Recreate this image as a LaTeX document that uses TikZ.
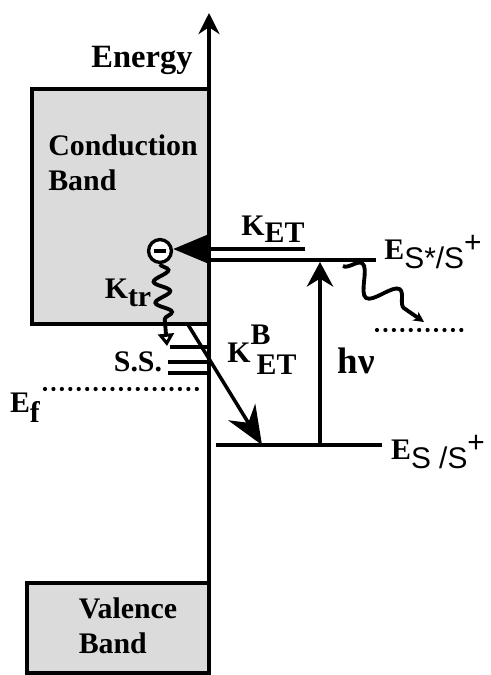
\documentclass[tikz,border=0pt]{standalone}
\usepackage{fontspec}
\setmainfont{Liberation Serif}
\setsansfont{Liberation Sans}
\usetikzlibrary{arrows.meta,decorations.pathmorphing}

\begin{document}
\begin{tikzpicture}[x=0.02cm, y=-0.02cm, font=\fontsize{17}{20}\selectfont\bfseries]
        \tikzstyle{band} = [draw, line width=2.6pt, fill=gray!28]
        \tikzstyle{lvl} = [line width=2.3pt]
        \tikzstyle{lbl} = [inner sep=0pt, align=left]
        \tikzstyle{dots} = [line width=2.4pt, line cap=round, dash pattern=on 0pt off 4.8pt]
        \tikzstyle{wavy} = [line width=2.2pt, decorate]
        \useasboundingbox (0,0) rectangle (490,675);
        % bands
        \draw[band] (32,89) rectangle (209,324);
        \draw[band] (27,583) rectangle (209,673);
        \node[lbl] (cb) at (123,163) {Conduction\\Band};
        \node[lbl] (vb) at (128,626) {Valence\\Band};
        % energy axis
        \coordinate (ax0) at (209,673);
        \coordinate (ax1) at (209,13);
        \draw[line width=2.3pt, -{Stealth[length=12pt, width=12pt]}] (ax0) -- (ax1);
        \node[lbl, font=\fontsize{18.5}{20}\selectfont\bfseries] (energy) at (142,60) {Energy};
        % levels
        \coordinate (es1) at (209,260);
        \coordinate (es2) at (376,260);
        \coordinate (eg1) at (216,445);
        \coordinate (eg2) at (382,445);
        \draw[lvl] (es1) -- (es2);
        \draw[lvl] (eg1) -- (eg2);
        \node[lbl] (lesx) at (433,252) {E\raisebox{-0.6ex}{\sffamily\mdseries S*/S}\raisebox{0.5ex}{\sffamily\mdseries +}};
        \node[lbl] (lesg) at (438,452) {E\raisebox{-0.7ex}{\sffamily\mdseries S /S}\raisebox{0.5ex}{\sffamily\mdseries +}};
        % surface states and fermi level
        \foreach \yy/\xx in {347/170, 362/168, 373/168} {
          \draw[lvl] (\xx,\yy) -- (209,\yy);
        }
        \node[lbl] (ss) at (138,362) {S.S.};
        \coordinate (ef1) at (45,389);
        \coordinate (ef2) at (205,389);
        \draw[dots] (ef1) -- (ef2);
        \node[lbl] (ef) at (25,408) {E\raisebox{-0.7ex}{f}};
        \coordinate (rl1) at (377,330);
        \coordinate (rl2) at (466,330);
        \draw[dots] (rl1) -- (rl2);
        % electron
        \node[circle, draw, line width=1.9pt, fill=white, minimum size=13pt, inner sep=0pt] (el) at (160,251) {};
        \draw[line width=2.2pt] ([xshift=-3.5pt]el.center) -- ([xshift=3.5pt]el.center);
        % transfer arrows
        \coordinate (ket) at (305,249);
        \draw[lvl, -{Triangle[length=20pt, width=16pt]}] (ket) -- (el.east |- ket);
        \node[lbl] (lket) at (273,229) {K\raisebox{-0.5ex}{ET}};
        \coordinate (ktr) at (167,346);
        \draw[wavy, decoration={snake, amplitude=4.5pt, segment length=12pt, post length=12pt},
          -{Triangle[open, length=7pt, width=9pt]}] (el.south) -- (ktr);
        \node[lbl] (lktr) at (128,293) {K\raisebox{-0.6ex}{tr}};
        \coordinate (kb0) at (187,323);
        \coordinate (kb1) at (262,445);
        \draw[line width=2pt, -{Stealth[length=22pt, width=18pt]}] (kb0) -- (kb1);
        \node[lbl] (lkb) at (262,350) {K\rlap{\raisebox{1.3ex}{B}}\raisebox{-0.9ex}{\hspace{0.2em}ET}};
        % excitation and relaxation
        \coordinate (hv0) at (320,445);
        \coordinate (hv1) at (320,262);
        \draw[line width=2pt, -{Stealth[length=14pt, width=15pt]}] (hv0) -- (hv1);
        \node[lbl, font=\fontsize{21}{22}\selectfont\bfseries] (lhv) at (356,361) {hν};
        \coordinate (rx0) at (343,266);
        \coordinate (rx1) at (424,322);
        \draw[wavy, decoration={snake, amplitude=7.5pt, segment length=26pt, post length=5pt},
          -{Stealth[length=6pt, width=6pt]}] (rx0) -- (rx1);
\end{tikzpicture}
\end{document}
